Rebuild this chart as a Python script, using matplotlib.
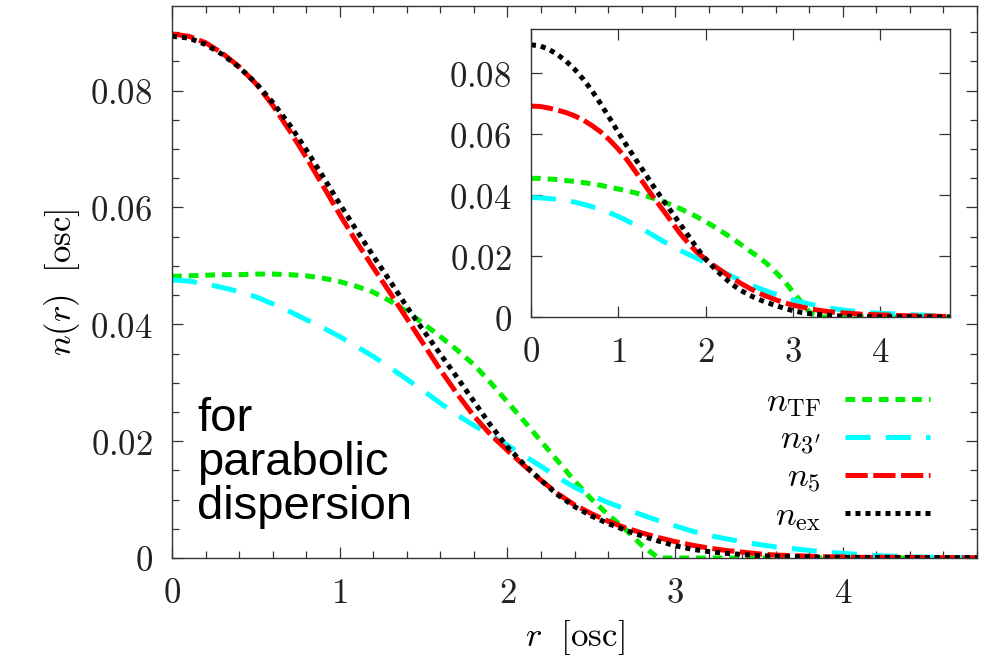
import numpy as np
import matplotlib
matplotlib.use("Agg")
import matplotlib.pyplot as plt
from matplotlib.ticker import MultipleLocator

plt.rcParams['mathtext.fontset'] = 'cm'
plt.rcParams['lines.scale_dashes'] = False

# radial grid shared by every curve [osc]
r = np.round(np.arange(0, 4.81, 0.1), 2)

# exact density (same in both panels)
n_ex = [0.0893, 0.0890, 0.0879, 0.0862, 0.0840, 0.0813, 0.0780, 0.0742, 0.0699, 0.0653,
        0.0606, 0.0561, 0.0517, 0.0474, 0.0430, 0.0389, 0.0349, 0.0309, 0.0268, 0.0227,
        0.0190, 0.0160, 0.0133, 0.0108, 0.0088, 0.0072, 0.0059, 0.0048, 0.0038, 0.0029,
        0.0021, 0.0015, 0.0011, 0.0008, 0.0006, 0.0004, 0.0003, 0.0002, 0.0002, 0.0001,
        0.0001, 0.0001, 0.0001, 0.0001, 0.0001, 0.00005, 0.00005, 0.00005, 0.00005]

# main panel: parabolic dispersion
n_tf = [0.0482, 0.0483, 0.0484, 0.0485, 0.0485, 0.0486, 0.0486, 0.0485, 0.0483, 0.0479,
        0.0473, 0.0465, 0.0455, 0.0440, 0.0422, 0.0401, 0.0379, 0.0356, 0.0331, 0.0300,
        0.0267, 0.0234, 0.0200, 0.0166, 0.0132, 0.0101, 0.0074, 0.0050, 0.0022, 0.0,
        0.0, 0.0, 0.0, 0.0, 0.0, 0.0, 0.0, 0.0, 0.0, 0.0,
        0.0, 0.0, 0.0, 0.0, 0.0, 0.0, 0.0, 0.0, 0.0]
n_3p = [0.0476, 0.0474, 0.0469, 0.0463, 0.0456, 0.0447, 0.0435, 0.0422, 0.0408, 0.0394,
        0.0379, 0.0362, 0.0345, 0.0326, 0.0306, 0.0286, 0.0265, 0.0245, 0.0227, 0.0210,
        0.0193, 0.0175, 0.0157, 0.0138, 0.0121, 0.0107, 0.0095, 0.0084, 0.0074, 0.0064,
        0.0055, 0.0046, 0.0039, 0.0033, 0.0028, 0.0023, 0.0019, 0.0016, 0.0013, 0.0010,
        0.0008, 0.0006, 0.0004, 0.0003, 0.0002, 0.00015, 0.0001, 0.0001, 0.00005]
n_5 = [0.0897, 0.0893, 0.0882, 0.0864, 0.0841, 0.0812, 0.0775, 0.0732, 0.0686, 0.0637,
       0.0588, 0.0541, 0.0497, 0.0454, 0.0410, 0.0366, 0.0322, 0.0281, 0.0243, 0.0211,
       0.0184, 0.0158, 0.0133, 0.0110, 0.0091, 0.0076, 0.0063, 0.0052, 0.0043, 0.0035,
       0.0028, 0.0022, 0.0017, 0.0013, 0.0010, 0.0007, 0.0005, 0.0004, 0.0003, 0.0002,
       0.0002, 0.0001, 0.0001, 0.0001, 0.0001, 0.00005, 0.00005, 0.00005, 0.00005]

# inset panel
ins_tf = [0.0455, 0.0455, 0.0453, 0.0451, 0.0448, 0.0445, 0.0441, 0.0437, 0.0432, 0.0426,
          0.0420, 0.0414, 0.0407, 0.0399, 0.0390, 0.0380, 0.0369, 0.0357, 0.0343, 0.0329,
          0.0313, 0.0296, 0.0278, 0.0259, 0.0239, 0.0218, 0.0198, 0.0176, 0.0148, 0.0119,
          0.0083, 0.0048, 0.0012, 0.0, 0.0, 0.0, 0.0, 0.0, 0.0, 0.0,
          0.0, 0.0, 0.0, 0.0, 0.0, 0.0, 0.0, 0.0, 0.0]
ins_3p = [0.0392, 0.0391, 0.0389, 0.0386, 0.0382, 0.0377, 0.0370, 0.0362, 0.0353, 0.0342,
          0.0330, 0.0316, 0.0301, 0.0285, 0.0268, 0.0251, 0.0235, 0.0220, 0.0206, 0.0193,
          0.0178, 0.0163, 0.0148, 0.0134, 0.0120, 0.0107, 0.0096, 0.0085, 0.0075, 0.0065,
          0.0056, 0.0049, 0.0042, 0.0036, 0.0031, 0.0026, 0.0022, 0.0019, 0.0016, 0.0014,
          0.0012, 0.0011, 0.0010, 0.0008, 0.0007, 0.0006, 0.0005, 0.0004, 0.0004]
ins_5 = [0.0692, 0.0691, 0.0686, 0.0679, 0.0671, 0.0660, 0.0646, 0.0628, 0.0607, 0.0581,
         0.0551, 0.0516, 0.0476, 0.0435, 0.0394, 0.0356, 0.0317, 0.0277, 0.0243, 0.0213,
         0.0190, 0.0168, 0.0148, 0.0128, 0.0111, 0.0095, 0.0080, 0.0068, 0.0057, 0.0047,
         0.0039, 0.0033, 0.0027, 0.0022, 0.0018, 0.0015, 0.0013, 0.0011, 0.0009, 0.0008,
         0.0007, 0.0006, 0.0005, 0.0004, 0.0004, 0.0003, 0.0003, 0.0002, 0.0002]

labels = [r'$n_{\rm TF}$', r"$n_{3'}$", r'$n_{5}$', r'$n_{\rm ex}$']
xticks = [0, 1, 2, 3, 4]
yticks = [0, 0.02, 0.04, 0.06, 0.08]
yticklabels = ['$0$', '$0.02$', '$0.04$', '$0.06$', '$0.08$']

lw = 3.6
styles = [dict(color='#00ee00', ls=(0, (7, 5))),
          dict(color='#00ffff', ls=(0, (18, 11))),
          dict(color='#ff0000', ls=(0, (16, 4))),
          dict(color='black', ls=(0, (3.6, 3.6)))]


def style_axes(ax, minor=True):
    ax.set_xlim(0, 4.8)
    ax.set_ylim(0, 0.0945)
    ax.set_xticks(xticks)
    ax.set_xticklabels(['$%d$' % t for t in xticks])
    ax.set_yticks(yticks)
    ax.set_yticklabels(yticklabels)
    if minor:
        ax.xaxis.set_minor_locator(MultipleLocator(0.2))
        ax.yaxis.set_minor_locator(MultipleLocator(0.005))
    ax.tick_params(which='both', direction='in', top=True, right=True,
                   color='#333333', labelsize=25, labelcolor='#222222')
    ax.tick_params(which='major', length=8, width=0.9)
    ax.tick_params(which='minor', length=5, width=0.9)
    ax.tick_params(axis='y', pad=14)
    ax.tick_params(axis='x', pad=13)
    for s in ax.spines.values():
        s.set_linewidth(1.0)
        s.set_color('#333333')


fig = plt.figure(figsize=(9.82, 6.58), dpi=100)
ax = fig.add_axes([0.1752, 0.152, 0.8197, 0.8390])

for y, lab, st in zip([n_tf, n_3p, n_5, n_ex], labels, styles):
    ax.plot(r, y, lw=lw, label=lab, **st)

style_axes(ax)
ax.set_xlabel(r'$r\ \ [\mathrm{osc}]$', fontsize=25, labelpad=6)
ax.set_ylabel(r'$n(r)\ \ [\mathrm{osc}]$', fontsize=25, labelpad=6)

ax.text(0.031, 0.052, 'for\nparabolic\ndispersion', transform=ax.transAxes,
        fontsize=34, family='Liberation Sans', ha='left', va='bottom',
        linespacing=1.0)

leg = ax.legend(loc='lower right', bbox_to_anchor=(0.959, 0.020), frameon=False,
                markerfirst=False, fontsize=25, handlelength=2.45,
                labelspacing=0.08, handletextpad=0.7, borderaxespad=0)

# inset
axi = fig.add_axes([0.5407, 0.5182, 0.4267, 0.4377])
for y, st in zip([ins_tf, ins_3p, ins_5, n_ex], styles):
    axi.plot(r, y, lw=lw, **st)
style_axes(axi, minor=False)

fig.savefig('out.png', dpi=100)
